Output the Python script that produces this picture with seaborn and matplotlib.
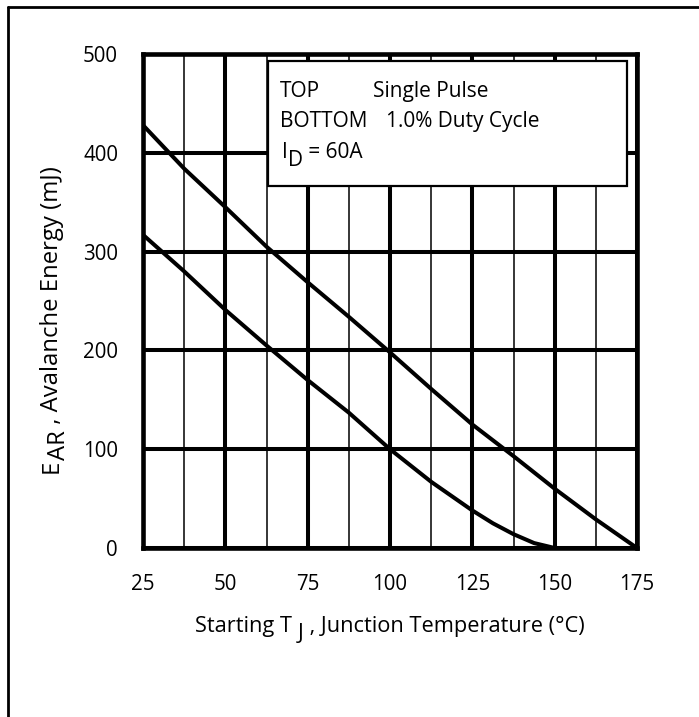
import matplotlib
matplotlib.use("Agg")
import matplotlib.pyplot as plt
import seaborn as sns
import pandas as pd
from matplotlib.patches import Rectangle
from matplotlib.lines import Line2D
from matplotlib.ticker import MultipleLocator

# ---- data ----
temp_top = [25, 37.5, 50, 62.5, 75, 87.5, 100, 112.5, 125, 137.5, 150, 162.5, 175]
energy_top = [428, 384, 345, 305, 269, 234, 198, 161, 125, 93, 60, 29, 0]
temp_bottom = [25, 37.5, 50, 62.5, 75, 87.5, 100, 112.5, 125, 131.25, 137.5, 143.75, 150]
energy_bottom = [317, 280, 241, 205, 170, 137, 100, 67, 38, 25, 14, 5, 0]
series_names = ["Single Pulse", "1.0% Duty Cycle"]
x_ticks = [25, 50, 75, 100, 125, 150, 175]
y_ticks = [0, 100, 200, 300, 400, 500]
xlabel_parts = ["Starting T ", "J", " , Junction Temperature (°C)"]
ylabel_parts = ["E", "AR", " , Avalanche Energy (mJ)"]
id_parts = ["I", "D", " = 60A"]

sns.set_theme(style="white")
plt.rcParams["font.family"] = ["Open Sans", "DejaVu Sans"]

df = pd.concat([
    pd.DataFrame({"T": temp_top, "E": energy_top, "series": series_names[0]}),
    pd.DataFrame({"T": temp_bottom, "E": energy_bottom, "series": series_names[1]}),
])

W, H = 699, 717
fig = plt.figure(figsize=(W / 100, H / 100), dpi=100)
ax = fig.add_axes([143 / W, 1 - 548 / H, 494 / W, 494 / H])

sns.lineplot(data=df, x="T", y="E", hue="series", palette=["black", "black"],
             linewidth=2.9, legend=False, ax=ax, zorder=5, sort=False)

ax.set_xlim(25, 175)
ax.set_ylim(0, 500)
ax.set_xticks(x_ticks)
ax.set_yticks(y_ticks)
ax.xaxis.set_minor_locator(MultipleLocator(12.5))
ax.grid(which="major", color="black", linewidth=2.9)
ax.grid(which="minor", axis="x", color="black", linewidth=1.1)
ax.set_axisbelow(True)
ax.tick_params(which="both", length=0)
ax.tick_params(axis="y", pad=18, labelsize=14.8, colors="black")
ax.tick_params(axis="x", pad=19, labelsize=14.8, colors="black")
ax.set_xlabel("")
ax.set_ylabel("")
for s in ax.spines.values():
    s.set_linewidth(3.3)
    s.set_color("black")
    s.set_zorder(6)

renderer = fig.canvas.get_renderer()


def px_text(x, y, s, fs, rot=0, z=8):
    # x, y in pixels from top-left of the figure
    t = fig.text(x / W, 1 - y / H, s, fontsize=fs, rotation=rot,
                 rotation_mode="anchor", ha="left", va="baseline",
                 color="black", zorder=z)
    return t


def rich(x, y, parts, fs, drop, rot=0):
    # parts alternate normal / subscript / normal; drop = subscript offset in px
    cx, cy = x, y
    for i, p in enumerate(parts):
        sub = (i % 2 == 1)
        if rot == 0:
            t = px_text(cx, cy + (drop if sub else 0), p, fs)
            bb = t.get_window_extent(renderer)
            cx += bb.width
        else:
            t = px_text(cx + (drop if sub else 0), cy, p, fs, rot=90)
            bb = t.get_window_extent(renderer)
            cy -= bb.height


# axis labels
rich(195, 632, xlabel_parts, 15.7, 7)
rich(58, 473, ylabel_parts, 17.2, 7, rot=90)

# legend-like box
box = Rectangle((268 / W, 1 - 186 / H), (627 - 268) / W, (186 - 61) / H,
                transform=fig.transFigure, facecolor="white", edgecolor="black",
                linewidth=1.6, zorder=7)
fig.add_artist(box)
fs = 15
px_text(280, 97, "TOP", fs)
px_text(373, 97, series_names[0], fs)
px_text(280, 127, "BOTTOM", fs)
px_text(386, 127, series_names[1], fs)
rich(282, 158, id_parts, fs, 8)

# figure frame (top and left edges visible)
fig.add_artist(Line2D([8 / W, 1], [1 - 7 / H, 1 - 7 / H], transform=fig.transFigure,
                      color="black", linewidth=2))
fig.add_artist(Line2D([8 / W, 8 / W], [0, 1 - 7 / H], transform=fig.transFigure,
                      color="black", linewidth=2))

fig.savefig("out.png", dpi=100)
